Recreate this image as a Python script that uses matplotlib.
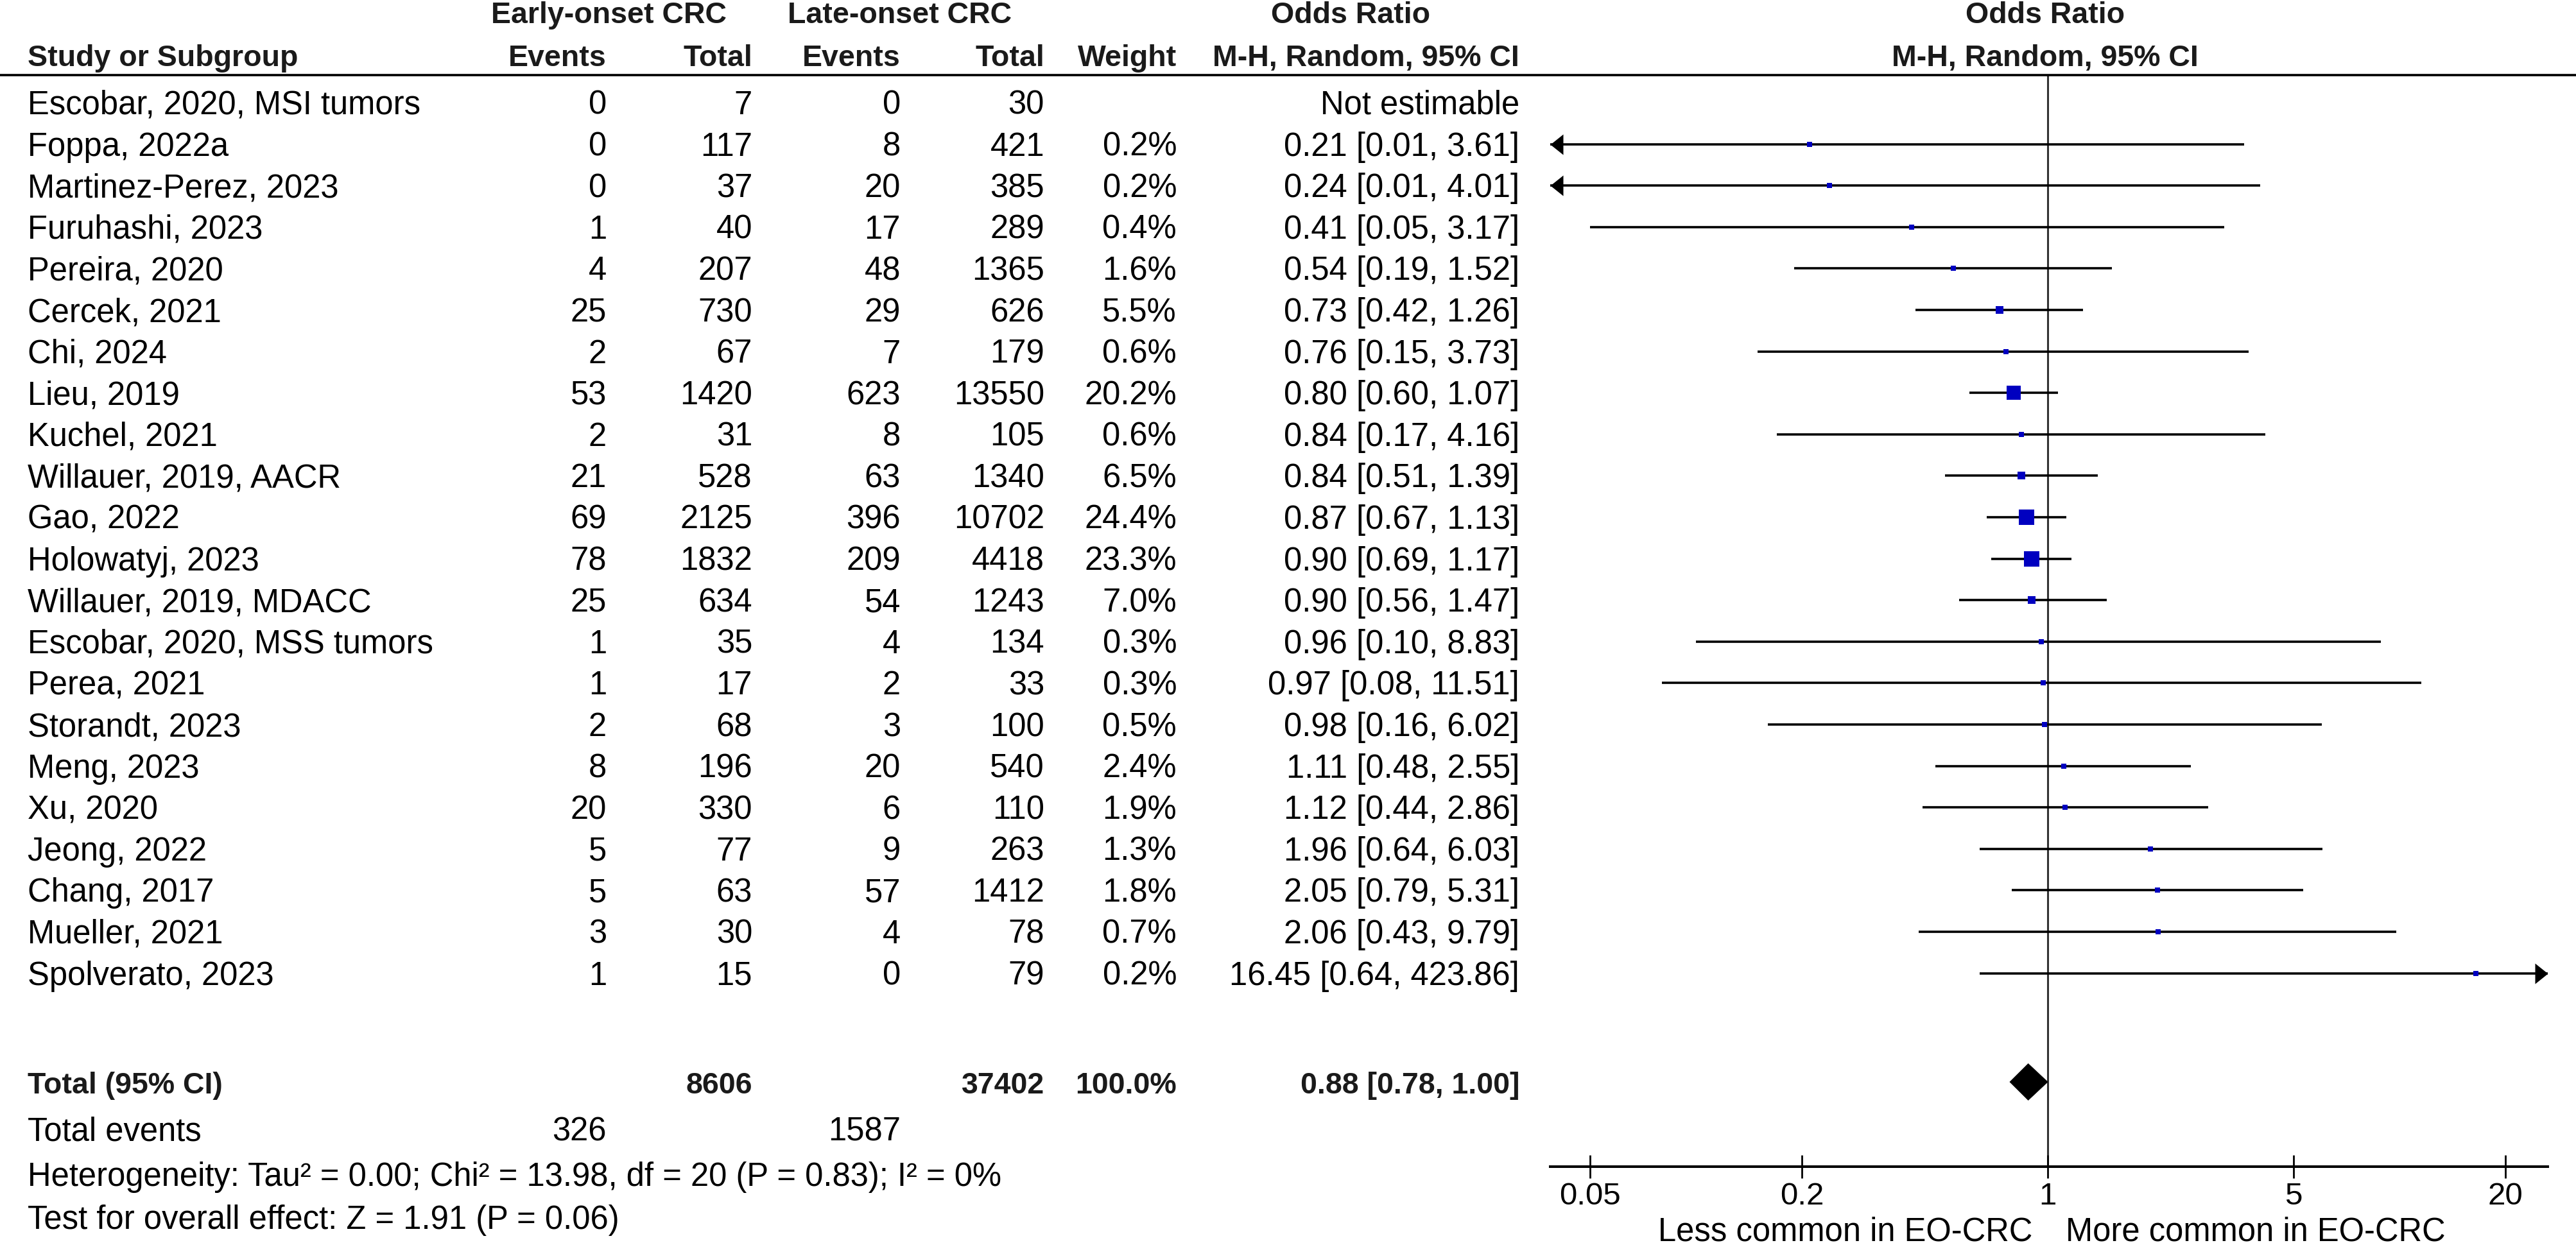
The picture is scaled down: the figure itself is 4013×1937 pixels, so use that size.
import numpy as np
import matplotlib
matplotlib.use('Agg')
import matplotlib.pyplot as plt
from matplotlib.transforms import blended_transform_factory
from matplotlib.path import Path
from matplotlib.markers import MarkerStyle
from matplotlib.patches import Polygon
from matplotlib.lines import Line2D
from matplotlib.ticker import NullLocator

# ---------------- data ----------------
studies = ["Escobar, 2020, MSI tumors", "Foppa, 2022a", "Martinez-Perez, 2023", "Furuhashi, 2023",
           "Pereira, 2020", "Cercek, 2021", "Chi, 2024", "Lieu, 2019", "Kuchel, 2021",
           "Willauer, 2019, AACR", "Gao, 2022", "Holowatyj, 2023", "Willauer, 2019, MDACC",
           "Escobar, 2020, MSS tumors", "Perea, 2021", "Storandt, 2023", "Meng, 2023", "Xu, 2020",
           "Jeong, 2022", "Chang, 2017", "Mueller, 2021", "Spolverato, 2023"]
eo_events = [0, 0, 0, 1, 4, 25, 2, 53, 2, 21, 69, 78, 25, 1, 1, 2, 8, 20, 5, 5, 3, 1]
eo_total = [7, 117, 37, 40, 207, 730, 67, 1420, 31, 528, 2125, 1832, 634, 35, 17, 68, 196, 330, 77, 63, 30, 15]
lo_events = [0, 8, 20, 17, 48, 29, 7, 623, 8, 63, 396, 209, 54, 4, 2, 3, 20, 6, 9, 57, 4, 0]
lo_total = [30, 421, 385, 289, 1365, 626, 179, 13550, 105, 1340, 10702, 4418, 1243, 134, 33, 100, 540, 110, 263, 1412, 78, 79]
weights = [np.nan, 0.2, 0.2, 0.4, 1.6, 5.5, 0.6, 20.2, 0.6, 6.5, 24.4, 23.3, 7.0, 0.3, 0.3, 0.5, 2.4, 1.9, 1.3, 1.8, 0.7, 0.2]
or_est = [np.nan, 0.21, 0.24, 0.41, 0.54, 0.73, 0.76, 0.80, 0.84, 0.84, 0.87, 0.90, 0.90, 0.96, 0.97, 0.98, 1.11, 1.12, 1.96, 2.05, 2.06, 16.45]
or_low = [np.nan, 0.01, 0.01, 0.05, 0.19, 0.42, 0.15, 0.60, 0.17, 0.51, 0.67, 0.69, 0.56, 0.10, 0.08, 0.16, 0.48, 0.44, 0.64, 0.79, 0.43, 0.64]
or_high = [np.nan, 3.61, 4.01, 3.17, 1.52, 1.26, 3.73, 1.07, 4.16, 1.39, 1.13, 1.17, 1.47, 8.83, 11.51, 6.02, 2.55, 2.86, 6.03, 5.31, 9.79, 423.86]

total_eo = 8606
total_lo = 37402
events_eo = 326
events_lo = 1587
total_weight = 100.0
pooled_or = 0.88
pooled_low = 0.78
pooled_high = 1.00
heterogeneity_text = "Heterogeneity: Tau\u00b2 = 0.00; Chi\u00b2 = 13.98, df = 20 (P = 0.83); I\u00b2 = 0%"
overall_text = "Test for overall effect: Z = 1.91 (P = 0.06)"
xticks = [0.05, 0.2, 1, 5, 20]
xtick_labels = ["0.05", "0.2", "1", "5", "20"]
favours = ["Less common in EO-CRC", "More common in EO-CRC"]

# ---------------- layout ----------------
W, H, DPI = 4013, 1937, 100
plt.rcParams['font.family'] = ['Liberation Sans', 'DejaVu Sans']
FS = 36.5
FSB = 33.5
BOLDC = '#1a1a1a'

fig = plt.figure(figsize=(W / DPI, H / DPI), dpi=DPI)
fig.patch.set_facecolor('white')

def fx(px):
    return px / W

AX_L, AX_R, AX_T, AX_B = 2415, 3969, 117, 1818
ax = fig.add_axes([fx(AX_L), 1 - AX_B / H, (AX_R - AX_L) / W, (AX_B - AX_T) / H])
ROW0, ROWH = 160, 64.6

def ry(py):
    return (py - ROW0) / ROWH

ax.set_xscale('log')
ax.set_xlim(10 ** -1.414, 10 ** 1.421)
ax.set_ylim(ry(AX_B), ry(AX_T))
for s in ['top', 'left', 'right']:
    ax.spines[s].set_visible(False)
ax.spines['bottom'].set_linewidth(2.9)
ax.spines['bottom'].set_color('black')
ax.set_yticks([])
ax.set_xticks(xticks)
ax.set_xticklabels(xtick_labels)
ax.xaxis.set_minor_locator(NullLocator())
ax.tick_params(axis='x', direction='inout', length=26.6, width=2.0, pad=4.0,
               labelsize=FS - 1, colors='black')
ax.patch.set_alpha(0)

trans = blended_transform_factory(fig.transFigure, ax.transData)
BASE = 18 / ROWH  # baseline offset from row centre

def txt(xpx, y, s, ha='right', bold=False, fs=None):
    fig.text(fx(xpx), y + BASE, s, transform=trans, ha=ha, va='baseline',
             fontsize=(fs if fs else (FSB if bold else FS)),
             fontweight='bold' if bold else 'normal',
             color=BOLDC if bold else 'black')

C_STUDY, C_EOE, C_EOT, C_LOE, C_LOT, C_W, C_OR = 43, 945, 1172, 1403, 1627, 1833, 2367

# headers
yh1, yh2 = ry(18), ry(85)
txt(948, yh1, "Early-onset CRC", ha='center', bold=True)
txt(1402, yh1, "Late-onset CRC", ha='center', bold=True)
txt(2104, yh1, "Odds Ratio", ha='center', bold=True)
txt(3186, yh1, "Odds Ratio", ha='center', bold=True)
txt(C_STUDY, yh2, "Study or Subgroup", ha='left', bold=True)
txt(C_EOE, yh2, "Events", bold=True)
txt(C_EOT, yh2, "Total", bold=True)
txt(C_LOE, yh2, "Events", bold=True)
txt(C_LOT, yh2, "Total", bold=True)
txt(C_W, yh2, "Weight", bold=True)
txt(C_OR, yh2, "M-H, Random, 95% CI", bold=True)
txt(3186, yh2, "M-H, Random, 95% CI", ha='center', bold=True)

fig.add_artist(Line2D([0, 1], [1 - AX_T / H, 1 - AX_T / H], transform=fig.transFigure,
                      color='black', lw=2.6, solid_capstyle='butt'))

# reference line at OR = 1
ax.axvline(1, color='#333333', lw=2.2, zorder=1)

xmin, xmax = ax.get_xlim()
left_arrow = MarkerStyle(Path([(0, 0), (20, 16), (20, -16), (0, 0)], closed=True))
right_arrow = MarkerStyle(Path([(0, 0), (-20, 16), (-20, -16), (0, 0)], closed=True))

for i, name in enumerate(studies):
    y = i
    txt(C_STUDY, y, name, ha='left')
    txt(C_EOE, y, str(eo_events[i]))
    txt(C_EOT, y, str(eo_total[i]))
    txt(C_LOE, y, str(lo_events[i]))
    txt(C_LOT, y, str(lo_total[i]))
    if np.isnan(or_est[i]):
        txt(C_OR, y, "Not estimable")
        continue
    txt(C_W, y, f"{weights[i]:.1f}%")
    txt(C_OR, y, f"{or_est[i]:.2f} [{or_low[i]:.2f}, {or_high[i]:.2f}]")
    lo = max(or_low[i], xmin)
    hi = min(or_high[i], xmax)
    ax.plot([lo, hi], [y, y], color='black', lw=2.6, solid_capstyle='butt', zorder=2, clip_on=False)
    if or_low[i] < xmin:
        ax.plot([xmin], [y], marker=left_arrow, ms=28.8, color='black', mew=0, clip_on=False, zorder=3)
    if or_high[i] > xmax:
        ax.plot([xmax], [y], marker=right_arrow, ms=28.8, color='black', mew=0, clip_on=False, zorder=3)
    side_px = max(8.0, 4.86 * np.sqrt(weights[i]))
    ax.plot([or_est[i]], [y], marker='s', ms=side_px * 0.72, color='#0000C0', mew=0, zorder=4)

# total row
yt = ry(1686)
txt(C_STUDY, yt, "Total (95% CI)", ha='left', bold=True)
txt(C_EOT, yt, str(total_eo), bold=True)
txt(C_LOT, yt, str(total_lo), bold=True)
txt(C_W, yt, f"{total_weight:.1f}%", bold=True)
txt(C_OR, yt, f"{pooled_or:.2f} [{pooled_low:.2f}, {pooled_high:.2f}]", bold=True)
dh = 28.5 / ROWH
ax.add_patch(Polygon([(pooled_low, yt), (pooled_or, yt - dh), (pooled_high, yt), (pooled_or, yt + dh)],
                     closed=True, facecolor='black', edgecolor='black', lw=0.5, zorder=4))

ye = ry(1760)
txt(C_STUDY, ye, "Total events", ha='left')
txt(C_EOE, ye, str(events_eo))
txt(C_LOE, ye, str(events_lo))
txt(C_STUDY, ry(1830), heterogeneity_text, ha='left')
txt(C_STUDY, ry(1897), overall_text, ha='left')

# favour labels
yf = ry(1916)
txt(3166, yf, favours[0], ha='right')
txt(3218, yf, favours[1], ha='left')

fig.savefig('out.png', dpi=DPI, facecolor='white')
